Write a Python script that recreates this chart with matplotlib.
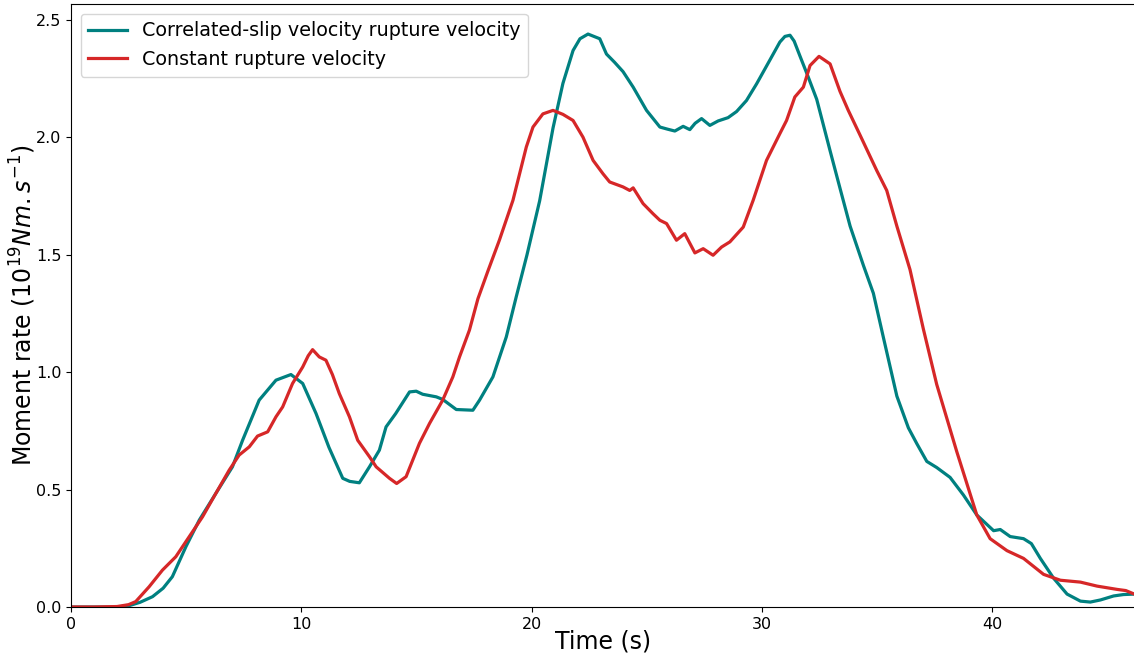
import matplotlib
matplotlib.use("Agg")
import matplotlib.pyplot as plt

# Moment-rate functions (10^19 N m / s) sampled in time (s)
t_corr = [0.0, 1.0, 2.0, 2.5, 3.0, 3.54, 4.0, 4.4, 4.99, 5.57, 6.29, 7.01, 7.45,
          8.17, 8.9, 9.55, 10.06, 10.64, 11.2, 11.8, 12.1, 12.52, 12.96, 13.39,
          13.68, 14.1, 14.7, 14.99, 15.27, 15.86, 16.14, 16.73, 17.45, 17.74,
          18.32, 18.9, 19.33, 19.8, 20.35, 20.93, 21.36, 21.8, 22.1, 22.45,
          22.96, 23.25, 23.6, 23.97, 24.41, 24.99, 25.57, 25.9, 26.22, 26.58,
          26.87, 27.1, 27.38, 27.74, 28.1, 28.53, 28.9, 29.33, 29.77, 30.35,
          30.78, 31.0, 31.22, 31.4, 31.65, 32.0, 32.38, 32.96, 33.4, 33.83,
          34.41, 34.84, 35.27, 35.86, 36.36, 36.73, 37.16, 37.59, 38.17, 38.75,
          39.33, 40.06, 40.35, 40.78, 41.36, 41.7, 42.09, 42.67, 43.25, 43.83,
          44.26, 44.7, 45.27, 45.7, 46.17]
v_corr = [0.0, 0.0, 0.0, 0.005, 0.02, 0.044, 0.08, 0.129, 0.257, 0.37, 0.484,
          0.597, 0.71, 0.881, 0.966, 0.99, 0.952, 0.824, 0.68, 0.548, 0.535,
          0.529, 0.597, 0.668, 0.767, 0.824, 0.916, 0.919, 0.906, 0.895, 0.884,
          0.841, 0.838, 0.881, 0.98, 1.15, 1.32, 1.5, 1.73, 2.04, 2.23, 2.37,
          2.42, 2.44, 2.42, 2.355, 2.32, 2.28, 2.214, 2.115, 2.044, 2.035,
          2.027, 2.047, 2.033, 2.06, 2.08, 2.051, 2.07, 2.084, 2.11, 2.157,
          2.228, 2.33, 2.406, 2.43, 2.435, 2.41, 2.347, 2.26, 2.162, 1.943,
          1.78, 1.622, 1.454, 1.336, 1.15, 0.898, 0.763, 0.695, 0.62, 0.594,
          0.552, 0.477, 0.392, 0.325, 0.33, 0.3, 0.291, 0.27, 0.207, 0.122,
          0.055, 0.025, 0.021, 0.03, 0.047, 0.053, 0.055]

t_const = [0.0, 1.0, 2.0, 2.5, 2.81, 3.39, 3.97, 4.55, 5.13, 5.71, 6.29, 6.87,
           7.3, 7.74, 8.1, 8.54, 8.9, 9.19, 9.62, 10.06, 10.3, 10.49, 10.78,
           11.07, 11.35, 11.65, 12.09, 12.45, 12.96, 13.25, 13.83, 14.14, 14.55,
           15.13, 15.57, 16.14, 16.58, 16.87, 17.3, 17.67, 18.1, 18.6, 19.19,
           19.77, 20.06, 20.49, 20.93, 21.36, 21.8, 22.23, 22.67, 23.1, 23.39,
           23.97, 24.26, 24.41, 24.84, 25.27, 25.57, 25.86, 26.29, 26.65, 27.09,
           27.45, 27.88, 28.25, 28.61, 29.19, 29.62, 30.2, 30.78, 31.07, 31.43,
           31.8, 32.09, 32.48, 32.96, 33.39, 33.75, 34.26, 34.99, 35.42, 35.86,
           36.43, 37.01, 37.59, 38.46, 39.33, 39.91, 40.64, 41.36, 42.23, 42.96,
           43.83, 44.55, 45.42, 45.8, 46.17]
v_const = [0.0, 0.0, 0.002, 0.01, 0.023, 0.086, 0.157, 0.214, 0.299, 0.384,
           0.484, 0.583, 0.647, 0.682, 0.728, 0.746, 0.81, 0.852, 0.952, 1.022,
           1.07, 1.096, 1.065, 1.051, 0.99, 0.909, 0.81, 0.71, 0.64, 0.597,
           0.548, 0.526, 0.555, 0.697, 0.782, 0.881, 0.98, 1.065, 1.179, 1.313,
           1.43, 1.562, 1.732, 1.959, 2.044, 2.1, 2.115, 2.098, 2.072, 2.001,
           1.902, 1.845, 1.81, 1.789, 1.774, 1.785, 1.718, 1.675, 1.647, 1.633,
           1.562, 1.59, 1.508, 1.526, 1.498, 1.533, 1.555, 1.618, 1.732, 1.902,
           2.016, 2.072, 2.172, 2.214, 2.306, 2.345, 2.313, 2.196, 2.115, 2.01,
           1.858, 1.774, 1.622, 1.437, 1.184, 0.948, 0.662, 0.392, 0.291, 0.24,
           0.207, 0.139, 0.114, 0.106, 0.089, 0.075, 0.07, 0.055]

labels = ["Correlated-slip velocity rupture velocity", "Constant rupture velocity"]
colors = ["#008080", "#d62728"]

fig = plt.figure(figsize=(11.34, 6.57), dpi=100)
ax = fig.add_axes([71 / 1134, 50 / 657, 1064 / 1134, 603 / 657])

ax.plot(t_corr, v_corr, color=colors[0], lw=2.3, label=labels[0])
ax.plot(t_const, v_const, color=colors[1], lw=2.3, label=labels[1])

ax.set_xlim(0, 46.2)
ax.set_ylim(0, 2.568)
ax.set_xticks([0, 10, 20, 30, 40])
ax.set_yticks([0.0, 0.5, 1.0, 1.5, 2.0, 2.5])
ax.tick_params(labelsize=11.5)
ax.spines["right"].set_visible(False)

ax.set_xlabel("Time (s)", fontsize=17, labelpad=-1.5)
ax.set_ylabel(r"Moment rate ($10^{19}Nm.s^{-1}$)", fontsize=17, labelpad=-1.5)

ax.legend(loc="upper left", fontsize=13.8)

fig.savefig("out.png", dpi=100)
